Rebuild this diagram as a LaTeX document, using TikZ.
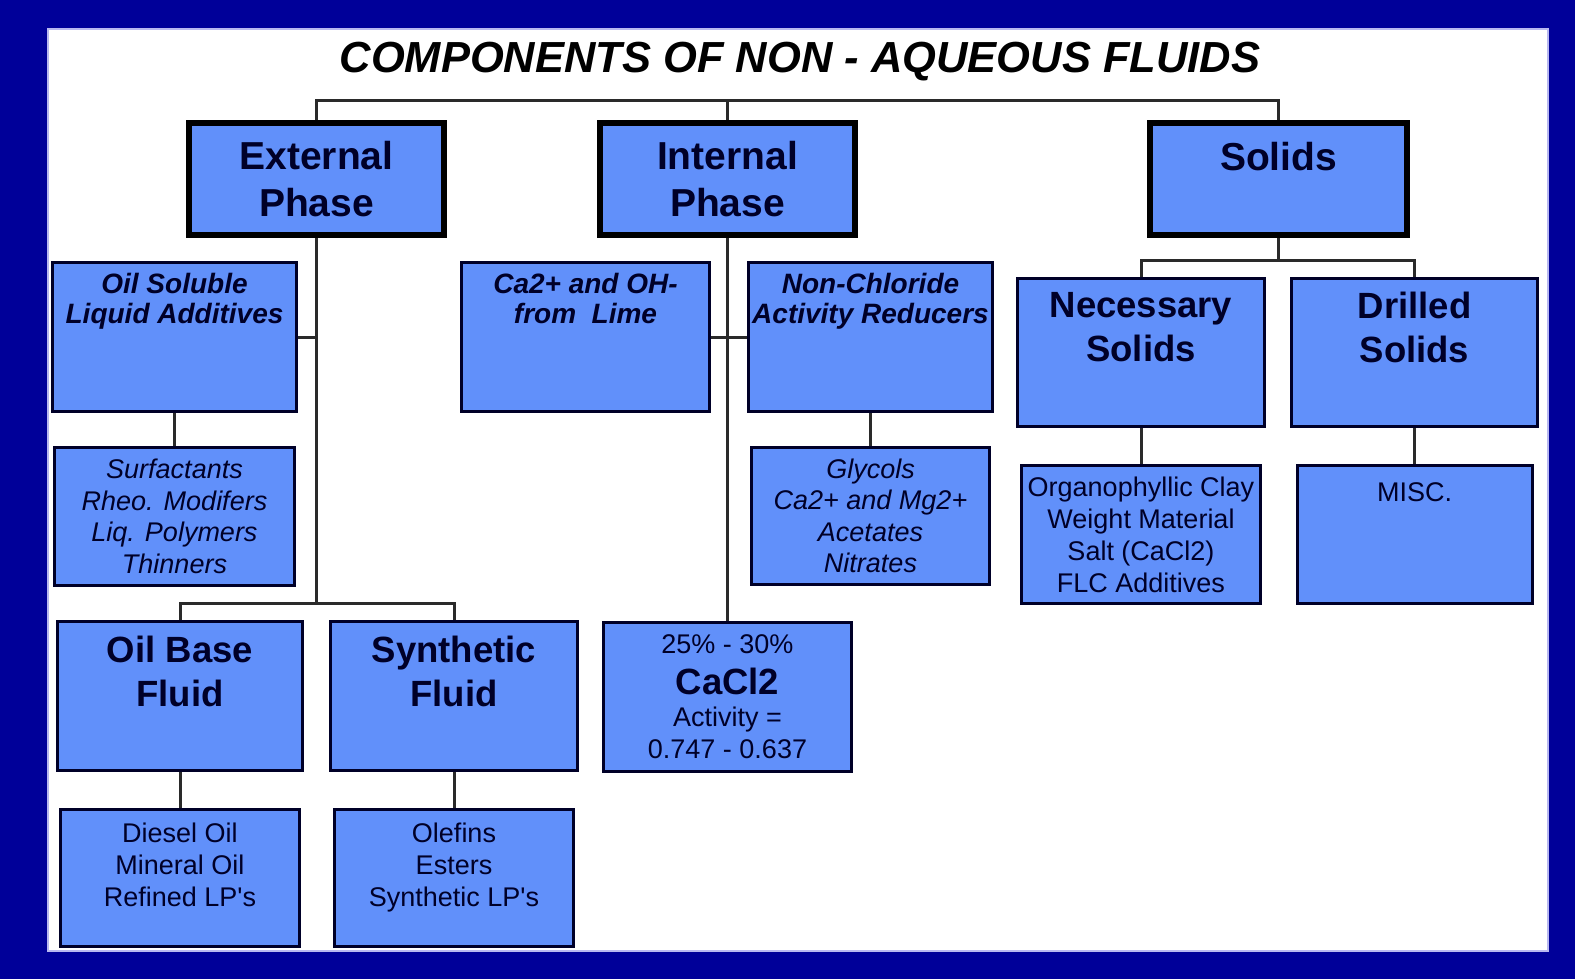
\documentclass[tikz,border=0pt]{standalone}
\usepackage{fontspec}
\setmainfont{Liberation Sans}
\usetikzlibrary{positioning}
\definecolor{frameblue}{HTML}{000099}
\definecolor{boxblue}{HTML}{6190FA}
\definecolor{inktext}{HTML}{000028}
\definecolor{wire}{HTML}{2A2A2A}
\definecolor{rim}{HTML}{B8B8F0}
\newcommand{\phasefont}{\fontsize{39}{47}\selectfont\bfseries}
\newcommand{\headfont}{\fontsize{36.5}{44}\selectfont\bfseries}
\newcommand{\subfont}{\fontsize{28}{30}\selectfont\bfseries\itshape}
\newcommand{\listit}{\fontsize{27}{31.5}\selectfont\itshape}
\newcommand{\listrm}{\fontsize{27}{32}\selectfont}
\newcommand{\aps}{\textquotesingle}
\tikzset{
  titletext/.style={font=\fontsize{43.5}{48}\selectfont\bfseries\itshape, text=black, inner sep=0pt},
  phasebox/.style={
    draw=black,
    line width=6pt,
    fill=boxblue,
    inner sep=0pt,
    align=center,
    text=inktext,
    font=\phasefont
  },
  partbox/.style={
    draw=inktext,
    line width=3pt,
    fill=boxblue,
    inner sep=0pt,
    align=center,
    text=inktext
  },
  sz/.style 2 args={minimum width=#1pt, minimum height=#2pt},
  toptext/.style n args={3}{label={[anchor=north, yshift=-#1pt, inner sep=0pt, align=center, text=inktext, font=#2]north:{#3}}},
  link/.style={draw=wire, line width=3pt}
}

\begin{document}
\begin{tikzpicture}[x=1pt,y=-1pt]
  \useasboundingbox (0,0) rectangle (1575,979);
  \fill[frameblue] (0,0) rectangle (1575,979);
  \draw[rim, fill=white, line width=2pt] (48,29) rectangle (1548,951);

  \node[titletext] (title) at (800,62) {COMPONENTS OF NON - AQUEOUS FLUIDS};

  \node[phasebox, sz={255}{112}] (ext) at (316.5,179) {External\\Phase};
  \node[phasebox, sz={255}{112}] (int) at (727.5,179) {Internal\\Phase};
  \node[phasebox, sz={257}{112}, toptext={22}{\phasefont}{Solids}] (sol) at (1278.5,179) {};

  % external phase
  \node[partbox, sz={244}{149}, toptext={12}{\subfont}{Oil Soluble\\Liquid Additives}] (oilsol) at (174.5,337) {};
  \node[partbox, sz={240}{138}, font=\listit] (surf) at (174.5,516.5) {Surfactants\\Rheo. Modifers\\Liq. Polymers\\Thinners};
  \node[partbox, sz={245}{149}, toptext={16}{\headfont}{Oil Base\\Fluid}] (oilbase) at (180,696) {};
  \node[partbox, sz={247}{149}, toptext={16}{\headfont}{Synthetic\\Fluid}] (synth) at (454,696) {};
  \node[partbox, sz={239}{137}, toptext={15}{\listrm}{Diesel Oil\\Mineral Oil\\Refined LP\aps s}] (diesel) at (180,878) {};
  \node[partbox, sz={239}{137}, toptext={15}{\listrm}{Olefins\\Esters\\Synthetic LP\aps s}] (olefin) at (454,878) {};

  % internal phase
  \node[partbox, sz={248}{149}, toptext={12}{\subfont}{Ca2+ and OH-\\from\ \ Lime}] (lime) at (585.5,337) {};
  \node[partbox, sz={244}{149}, toptext={12}{\subfont}{Non-Chloride\\Activity Reducers}] (nonchl) at (870.5,337) {};
  \node[partbox, sz={238}{137}, font=\listit] (glycol) at (870.5,516) {Glycols\\Ca2+ and Mg2+\\Acetates\\Nitrates};
  \node[partbox, sz={248}{149}, font=\listrm] (cacl) at (727.5,697) {25\% - 30\%\\[9pt]{\headfont CaCl2}\\Activity =\\0.747 - 0.637};

  % solids
  \node[partbox, sz={247}{148}, toptext={15}{\headfont}{Necessary\\Solids}] (necsol) at (1141,352.5) {};
  \node[partbox, sz={246}{148}, toptext={15}{\headfont}{Drilled\\Solids}] (drill) at (1414.5,352.5) {};
  \node[partbox, sz={239}{138}, font=\listrm] (organo) at (1141,534.5) {Organophyllic Clay\\Weight Material\\Salt (CaCl2)\\FLC Additives};
  \node[partbox, sz={235}{138}, toptext={18}{\listrm}{MISC.}] (misc) at (1414.5,534.5) {};

  % connectors
  \coordinate (topbar) at (0,101);
  \draw[link] (ext.north) -- (ext.north |- topbar) -| (sol.north);
  \draw[link] (int.north) -- (int.north |- topbar);

  \coordinate (extfork) at (316.5,603);
  \draw[link] (ext.south) -- (extfork);
  \draw[link] (oilbase.north) |- (extfork) -| (synth.north);
  \draw[link] (oilsol.east) -- (oilsol.east -| ext.south);
  \draw[link] (oilsol) -- (surf);
  \draw[link] (oilbase) -- (diesel);
  \draw[link] (synth) -- (olefin);

  \draw[link] (int.south) -- (cacl.north);
  \draw[link] (lime.east) -- (nonchl.west);
  \draw[link] (nonchl) -- (glycol);

  \coordinate (solfork) at (1278.5,260);
  \draw[link] (sol.south) -- (solfork);
  \draw[link] (necsol.north) |- (solfork) -| (drill.north);
  \draw[link] (necsol) -- (organo);
  \draw[link] (drill) -- (misc);
\end{tikzpicture}
\end{document}
